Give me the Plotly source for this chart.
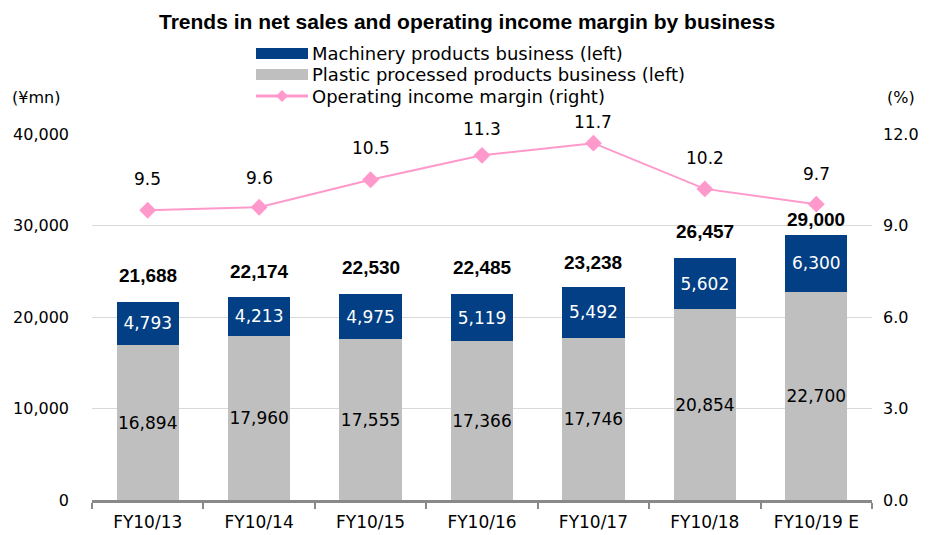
import plotly.graph_objects as go

categories = ["FY10/13", "FY10/14", "FY10/15", "FY10/16", "FY10/17", "FY10/18", "FY10/19 E"]
plastic = [16894, 17960, 17555, 17366, 17746, 20854, 22700]
machinery = [4793, 4213, 4975, 5119, 5492, 5602, 6300]
totals = [21688, 22174, 22530, 22485, 23238, 26457, 29000]
margin = [9.5, 9.6, 10.5, 11.3, 11.7, 10.2, 9.7]

left_ticks = [0, 10000, 20000, 30000, 40000]
right_ticks = [0, 3, 6, 9, 12]

# style: label offsets in px
total_shift = [26, 26, 26, 27, 25, 26, 15]
margin_shift = [31, 29, 32, 26, 21, 31, 30]

FONT = "DejaVu Sans, sans-serif"
TFONT = "Liberation Sans, Arial, sans-serif"
NAVY = "#023F84"
GRAY = "#BFBFBF"
PINK = "#FF99CC"

W, H = 929, 535
L, R, T, B = 92, 929 - 872, 134, 535 - 500
PW, PH = W - L - R, H - T - B


def px_x(p):
    return (p - L) / PW


def px_y(p):
    return (H - B - p) / PH


fig = go.Figure()
fig.add_trace(go.Bar(
    x=categories, y=plastic, marker=dict(color=GRAY, line=dict(width=0)),
    text=[f"{v:,}" for v in plastic], textposition="inside", insidetextanchor="middle",
    textangle=0, constraintext="none",
    textfont=dict(color="black", size=17, family=FONT), showlegend=False,
    name="Plastic processed products business (left)",
))
fig.add_trace(go.Bar(
    x=categories, y=machinery, marker=dict(color=NAVY, line=dict(width=0)),
    text=[f"{v:,}" for v in machinery], textposition="inside", insidetextanchor="middle",
    textangle=0, constraintext="none",
    textfont=dict(color="white", size=17, family=FONT), showlegend=False,
    name="Machinery products business (left)",
))
fig.add_trace(go.Scatter(
    x=categories, y=margin, yaxis="y2", mode="lines+markers",
    line=dict(color=PINK, width=2), marker=dict(symbol="diamond", size=13, color=PINK),
    showlegend=False, name="Operating income margin (right)",
))

annotations = []
for c, t, s in zip(categories, totals, total_shift):
    annotations.append(dict(x=c, y=t, xref="x", yref="y", text=f"<b>{t:,}</b>", showarrow=False,
                            yshift=s, yanchor="middle", font=dict(size=19, family=TFONT, color="black")))
for c, m, s in zip(categories, margin, margin_shift):
    annotations.append(dict(x=c, y=m, xref="x", yref="y2", text=f"{m:.1f}", showarrow=False,
                            yshift=s, yanchor="middle", font=dict(size=17, family=FONT, color="black")))

# title and units
annotations.append(dict(x=px_x(467), y=px_y(21), xref="paper", yref="paper",
                        text="<b>Trends in net sales and operating income margin by business</b>",
                        showarrow=False, xanchor="center", yanchor="middle",
                        font=dict(size=21, family=TFONT, color="black")))
annotations.append(dict(x=px_x(10), y=px_y(97), xref="paper", yref="paper", text="(¥mn)",
                        showarrow=False, xanchor="left", yanchor="middle",
                        font=dict(size=16, family=FONT, color="black")))
annotations.append(dict(x=px_x(917), y=px_y(97), xref="paper", yref="paper", text="(%)",
                        showarrow=False, xanchor="right", yanchor="middle",
                        font=dict(size=16, family=FONT, color="black")))

# manual legend
legend_items = [
    ("Machinery products business (left)", 54),
    ("Plastic processed products business (left)", 74),
    ("Operating income margin (right)", 96),
]
shapes = []
shapes.append(dict(type="rect", xref="paper", yref="paper", x0=px_x(256), x1=px_x(308),
                   y0=px_y(48), y1=px_y(59), fillcolor=NAVY, line=dict(width=0)))
shapes.append(dict(type="rect", xref="paper", yref="paper", x0=px_x(256), x1=px_x(308),
                   y0=px_y(69), y1=px_y(80), fillcolor=GRAY, line=dict(width=0)))
shapes.append(dict(type="line", xref="paper", yref="paper", x0=px_x(256), x1=px_x(308),
                   y0=px_y(96), y1=px_y(96), line=dict(color=PINK, width=3)))
cx, cy = 282, 96
shapes.append(dict(type="path", xref="paper", yref="paper",
                   path=f"M {px_x(cx-6)},{px_y(cy)} L {px_x(cx)},{px_y(cy-6)} L {px_x(cx+6)},{px_y(cy)} L {px_x(cx)},{px_y(cy+6)} Z",
                   fillcolor=PINK, line=dict(width=0)))
for txt, yc in legend_items:
    annotations.append(dict(x=px_x(310), y=px_y(yc), xref="paper", yref="paper", text=txt,
                            showarrow=False, xanchor="left", yanchor="middle",
                            font=dict(size=18, family=FONT, color="black")))

fig.update_layout(
    width=W, height=H, margin=dict(l=L, r=R, t=T, b=B, autoexpand=False),
    barmode="stack", bargap=0.44, hovermode=False,
    plot_bgcolor="white", paper_bgcolor="white",
    font=dict(family=FONT, size=17, color="black"),
    uniformtext=dict(mode=False),
    xaxis=dict(type="category", showline=True, linecolor="#898989", linewidth=2.5,
               ticks="outside", tickson="boundaries", ticklen=6, tickwidth=2, tickcolor="#898989",
               tickfont=dict(size=17, family=FONT), showgrid=False, zeroline=False,
               ticklabelstandoff=5),
    yaxis=dict(range=[0, 40000], tickvals=left_ticks, ticktext=[f"{v:,}" for v in left_ticks],
               showgrid=True, gridcolor="#D9D9D9", gridwidth=1, zeroline=False, showline=False,
               ticks="", tickfont=dict(size=16, family=FONT), ticklabelstandoff=22),
    yaxis2=dict(range=[0, 12], tickvals=right_ticks, ticktext=[f"{v:.1f}" for v in right_ticks],
                overlaying="y", side="right", showgrid=False, zeroline=False, showline=False,
                ticks="", tickfont=dict(size=16, family=FONT), ticklabelstandoff=10),
    annotations=annotations, shapes=shapes,
)

fig.write_html("out.html", config={"displayModeBar": False, "staticPlot": True},
               post_script="document.body.style.margin='0px';document.body.style.overflow='hidden';")
